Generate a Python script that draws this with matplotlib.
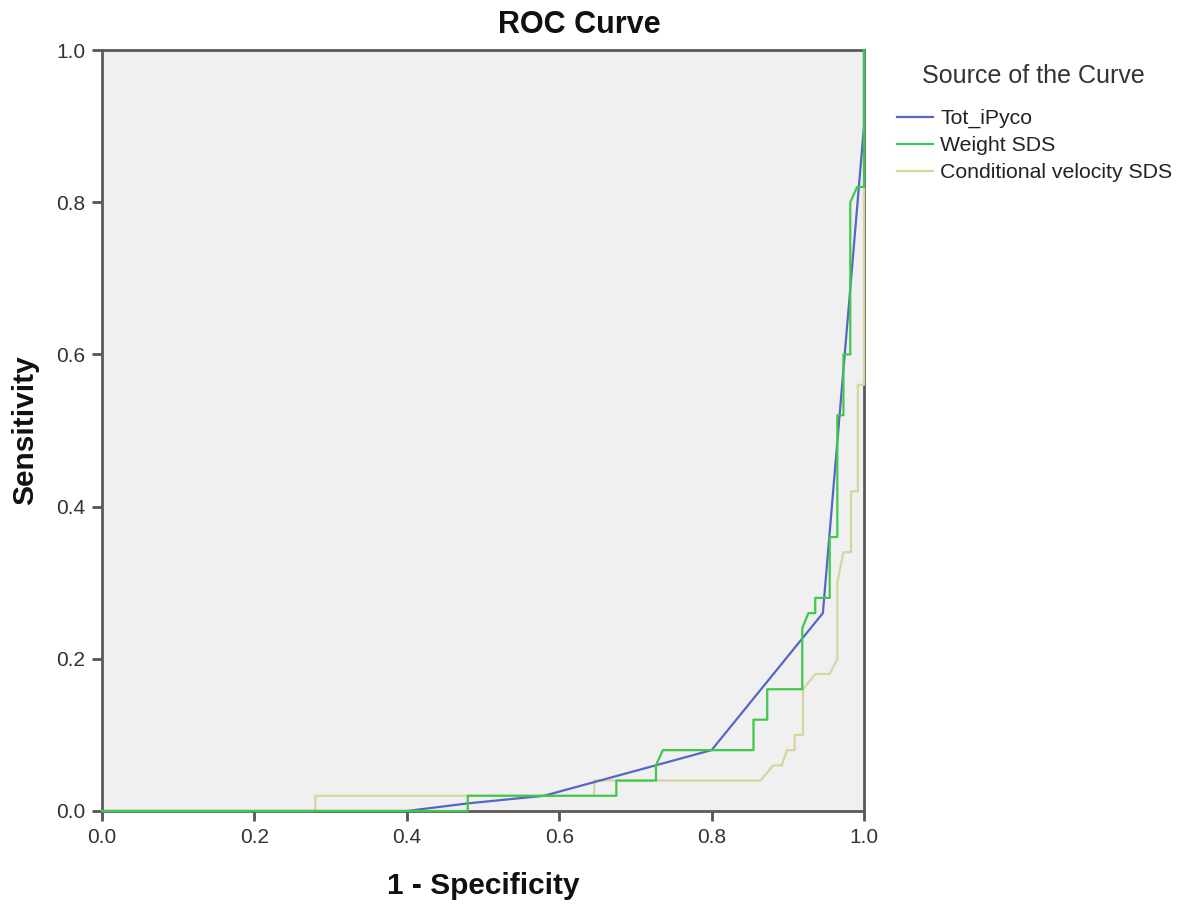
import matplotlib
matplotlib.use("Agg")
import matplotlib.pyplot as plt

plt.rcParams['font.family'] = ['Liberation Sans', 'DejaVu Sans']

# Tot_iPyco (1 - specificity, sensitivity)
tot_x = [0.0, 0.40, 0.48, 0.58, 0.80, 0.946, 1.0, 1.0]
tot_y = [0.0, 0.0, 0.01, 0.02, 0.08, 0.26, 0.90, 1.0]

# Weight SDS
wt_x = [0.0, 0.48, 0.48, 0.675, 0.675, 0.727, 0.727, 0.736, 0.855, 0.855, 0.873, 0.873,
        0.919, 0.919, 0.927, 0.936, 0.936, 0.955, 0.955, 0.965, 0.965, 0.973, 0.973,
        0.982, 0.982, 0.991, 1.0, 1.0]
wt_y = [0.0, 0.0, 0.02, 0.02, 0.04, 0.04, 0.06, 0.08, 0.08, 0.12, 0.12, 0.16,
        0.16, 0.24, 0.26, 0.26, 0.28, 0.28, 0.36, 0.36, 0.52, 0.52, 0.60,
        0.60, 0.80, 0.82, 0.82, 1.0]

# Conditional velocity SDS
cv_x = [0.0, 0.28, 0.28, 0.646, 0.646, 0.864, 0.881, 0.892, 0.899, 0.909, 0.909, 0.92,
        0.92, 0.936, 0.955, 0.965, 0.965, 0.973, 0.983, 0.983, 0.992, 0.992, 1.0, 1.0]
cv_y = [0.0, 0.0, 0.02, 0.02, 0.04, 0.04, 0.06, 0.06, 0.08, 0.08, 0.10, 0.10,
        0.16, 0.18, 0.18, 0.20, 0.30, 0.34, 0.34, 0.42, 0.42, 0.56, 0.56, 1.0]

series_names = ["Tot_iPyco", "Weight SDS", "Conditional velocity SDS"]
colors = ["#5467c4", "#3ec94c", "#d8d4a2"]

ticks = [0.0, 0.2, 0.4, 0.6, 0.8, 1.0]
tick_labels = ["0.0", "0.2", "0.4", "0.6", "0.8", "1.0"]

fig = plt.figure(figsize=(11.92, 9.10), dpi=100)
ax = fig.add_axes([102/1192, 1 - 811/910, (864-102)/1192, (811-50)/910])
ax.set_facecolor("#f0f0f0")

l3, = ax.plot(cv_x, cv_y, color=colors[2], lw=1.6, zorder=3, clip_on=False)
l1, = ax.plot(tot_x, tot_y, color=colors[0], lw=1.6, zorder=4, clip_on=False)
l2, = ax.plot(wt_x, wt_y, color=colors[1], lw=1.6, zorder=5, clip_on=False)

ax.set_xlim(0, 1)
ax.set_ylim(0, 1)
ax.set_xticks(ticks)
ax.set_xticklabels(tick_labels)
ax.set_yticks(ticks)
ax.set_yticklabels(tick_labels)
ax.tick_params(direction='out', length=7, width=2, color='#555555',
               labelsize=15, labelcolor='#333333', pad=5)
for s in ax.spines.values():
    s.set_linewidth(2)
    s.set_color('#5a5a5a')
    s.set_zorder(2.5)

fig.text(579/1192, 1 - 25/910, "ROC Curve", ha='center', va='center',
         fontsize=22, fontweight='bold', color='#111111')
fig.text(483/1192, 1 - 886/910, "1 - Specificity", ha='center', va='center',
         fontsize=21.5, fontweight='bold', color='#111111')
fig.text(25/1192, 1 - 430/910, "Sensitivity", ha='center', va='center',
         rotation=90, fontsize=21.5, fontweight='bold', color='#111111')

fig.text(1033/1192, 1 - 76/910, "Source of the Curve", ha='center', va='center',
         fontsize=18, color='#333333')

leg = fig.legend([l1, l2, l3], series_names, loc='upper left',
                 bbox_to_anchor=(897/1192, 1 - 109/910), frameon=False,
                 fontsize=15.3, handlelength=1.7, handletextpad=0.33,
                 labelspacing=0.38, borderpad=0, borderaxespad=0)
for t in leg.get_texts():
    t.set_color('#222222')

fig.savefig("out.png", dpi=100)
